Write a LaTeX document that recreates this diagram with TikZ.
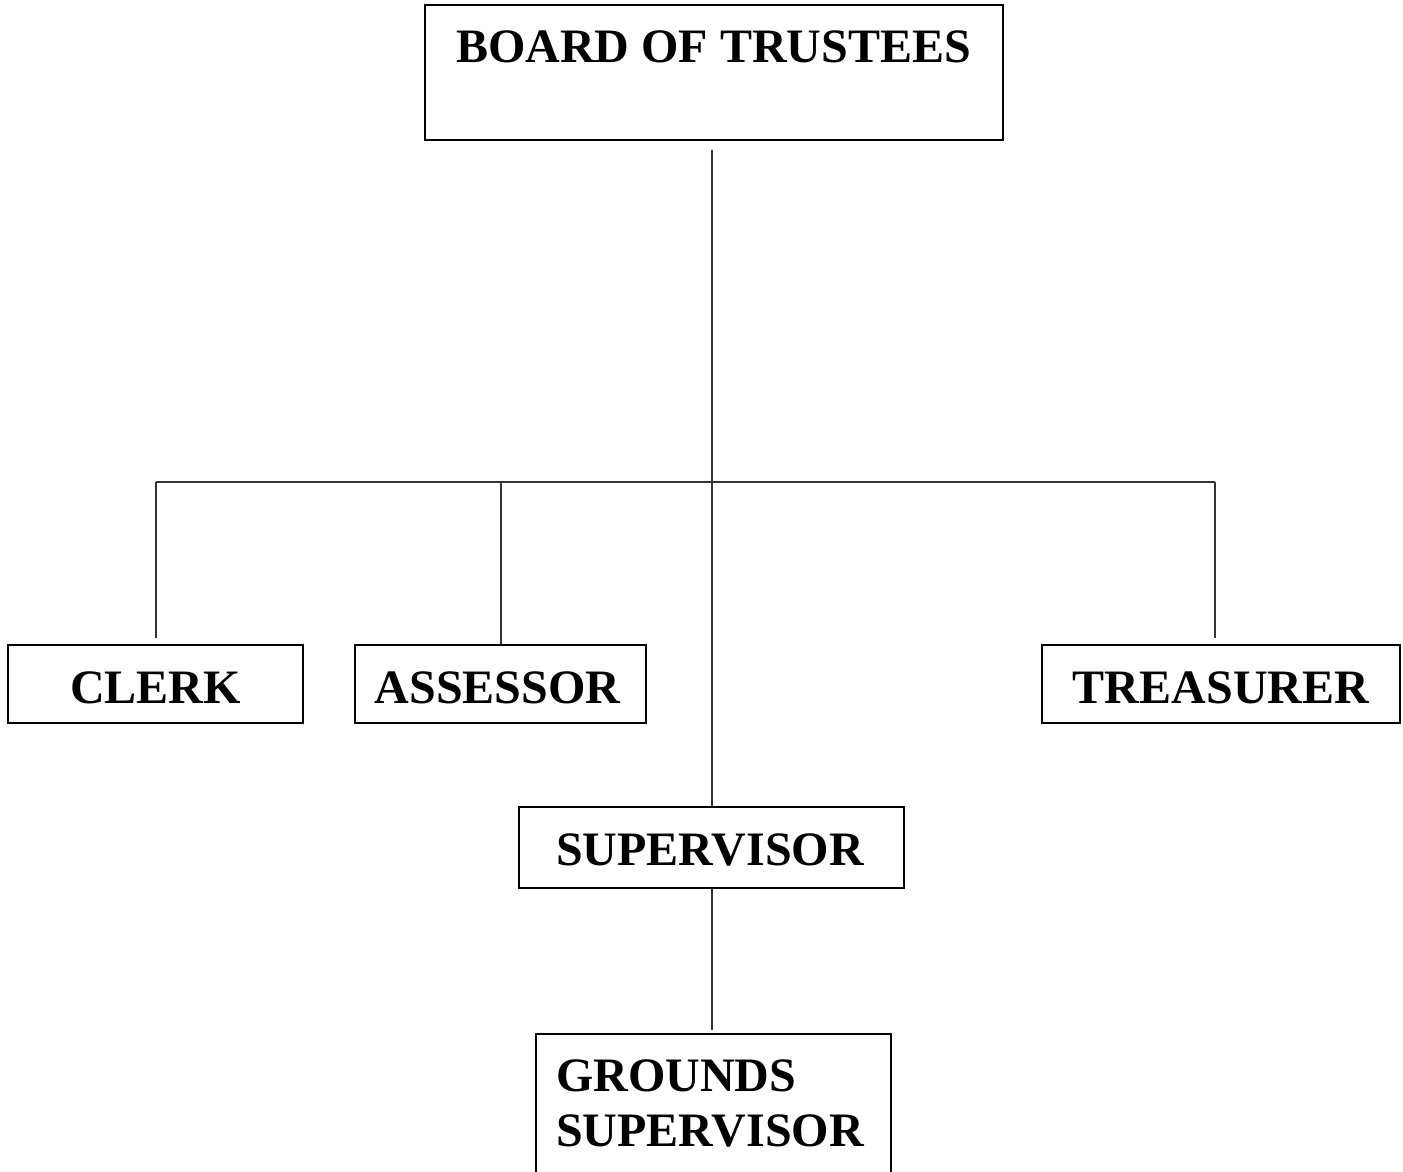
\documentclass[tikz,border=0pt]{standalone}
\usepackage{fontspec}
\setmainfont{Liberation Serif}
\usetikzlibrary{calc}
\begin{document}
\begin{tikzpicture}[x=1pt,y=-1pt,
  box/.style={draw=black, line width=2pt, inner sep=0pt, fill=none},
  lbl/.style={font=\fontsize{48}{56}\selectfont\bfseries, inner sep=0pt},
  conn/.style={draw=black!80, line width=1.4pt}]
\useasboundingbox[fill=white] (0,0) rectangle (1403,1171);
% boxes
\node[box, minimum width=578pt, minimum height=135pt] (board) at (714,72.5) {};
\node[lbl, anchor=base] (boardtxt) at (713.5,62) {BOARD OF TRUSTEES};
\node[box, minimum width=295pt, minimum height=78pt] (clerk) at (155.5,684) {};
\node[lbl, anchor=base] (clerktxt) at (155.5,703) {CLERK};
\node[box, minimum width=291pt, minimum height=78pt] (assessor) at (500.5,684) {};
\node[lbl, anchor=base] (assessortxt) at (497.5,703) {ASSESSOR};
\node[box, minimum width=358pt, minimum height=78pt] (treasurer) at (1221,684) {};
\node[lbl, anchor=base] (treasurertxt) at (1221,703) {TREASURER};
\node[box, minimum width=385pt, minimum height=81pt] (supervisor) at (711.5,847.5) {};
\node[lbl, anchor=base] (supervisortxt) at (710,865) {SUPERVISOR};
% grounds supervisor box (open at the page bottom)
\coordinate (gtl) at (536,1034);
\coordinate (gtr) at (891,1034);
\coordinate (gbl) at (536,1175);
\coordinate (gbr) at (891,1175);
\draw[line width=2pt] (gbl) -- (gtl) -- (gtr) -- (gbr);
\node[lbl, anchor=base west] (grounds1) at (556,1091) {GROUNDS};
\node[lbl, anchor=base west] (grounds2) at (556,1146) {SUPERVISOR};
% connectors
\coordinate (trunktop) at (712,150);
\coordinate (junction) at (712,482);
\coordinate (hL) at (156,482);
\coordinate (hA) at (501,482);
\coordinate (hR) at (1215,482);
\coordinate (clerkend) at (156,638);
\coordinate (treasend) at (1215,638);
\coordinate (groundsend) at (712,1030);
\draw[conn] (trunktop) -- (junction) -- (supervisor.north -| junction);
\draw[conn] (hL) -- (hR);
\draw[conn] (hL) -- (clerkend);
\draw[conn] (hA) -- (assessor.north -| hA);
\draw[conn] (hR) -- (treasend);
\draw[conn] (supervisor.south -| junction) -- (groundsend);
\end{tikzpicture}
\end{document}
